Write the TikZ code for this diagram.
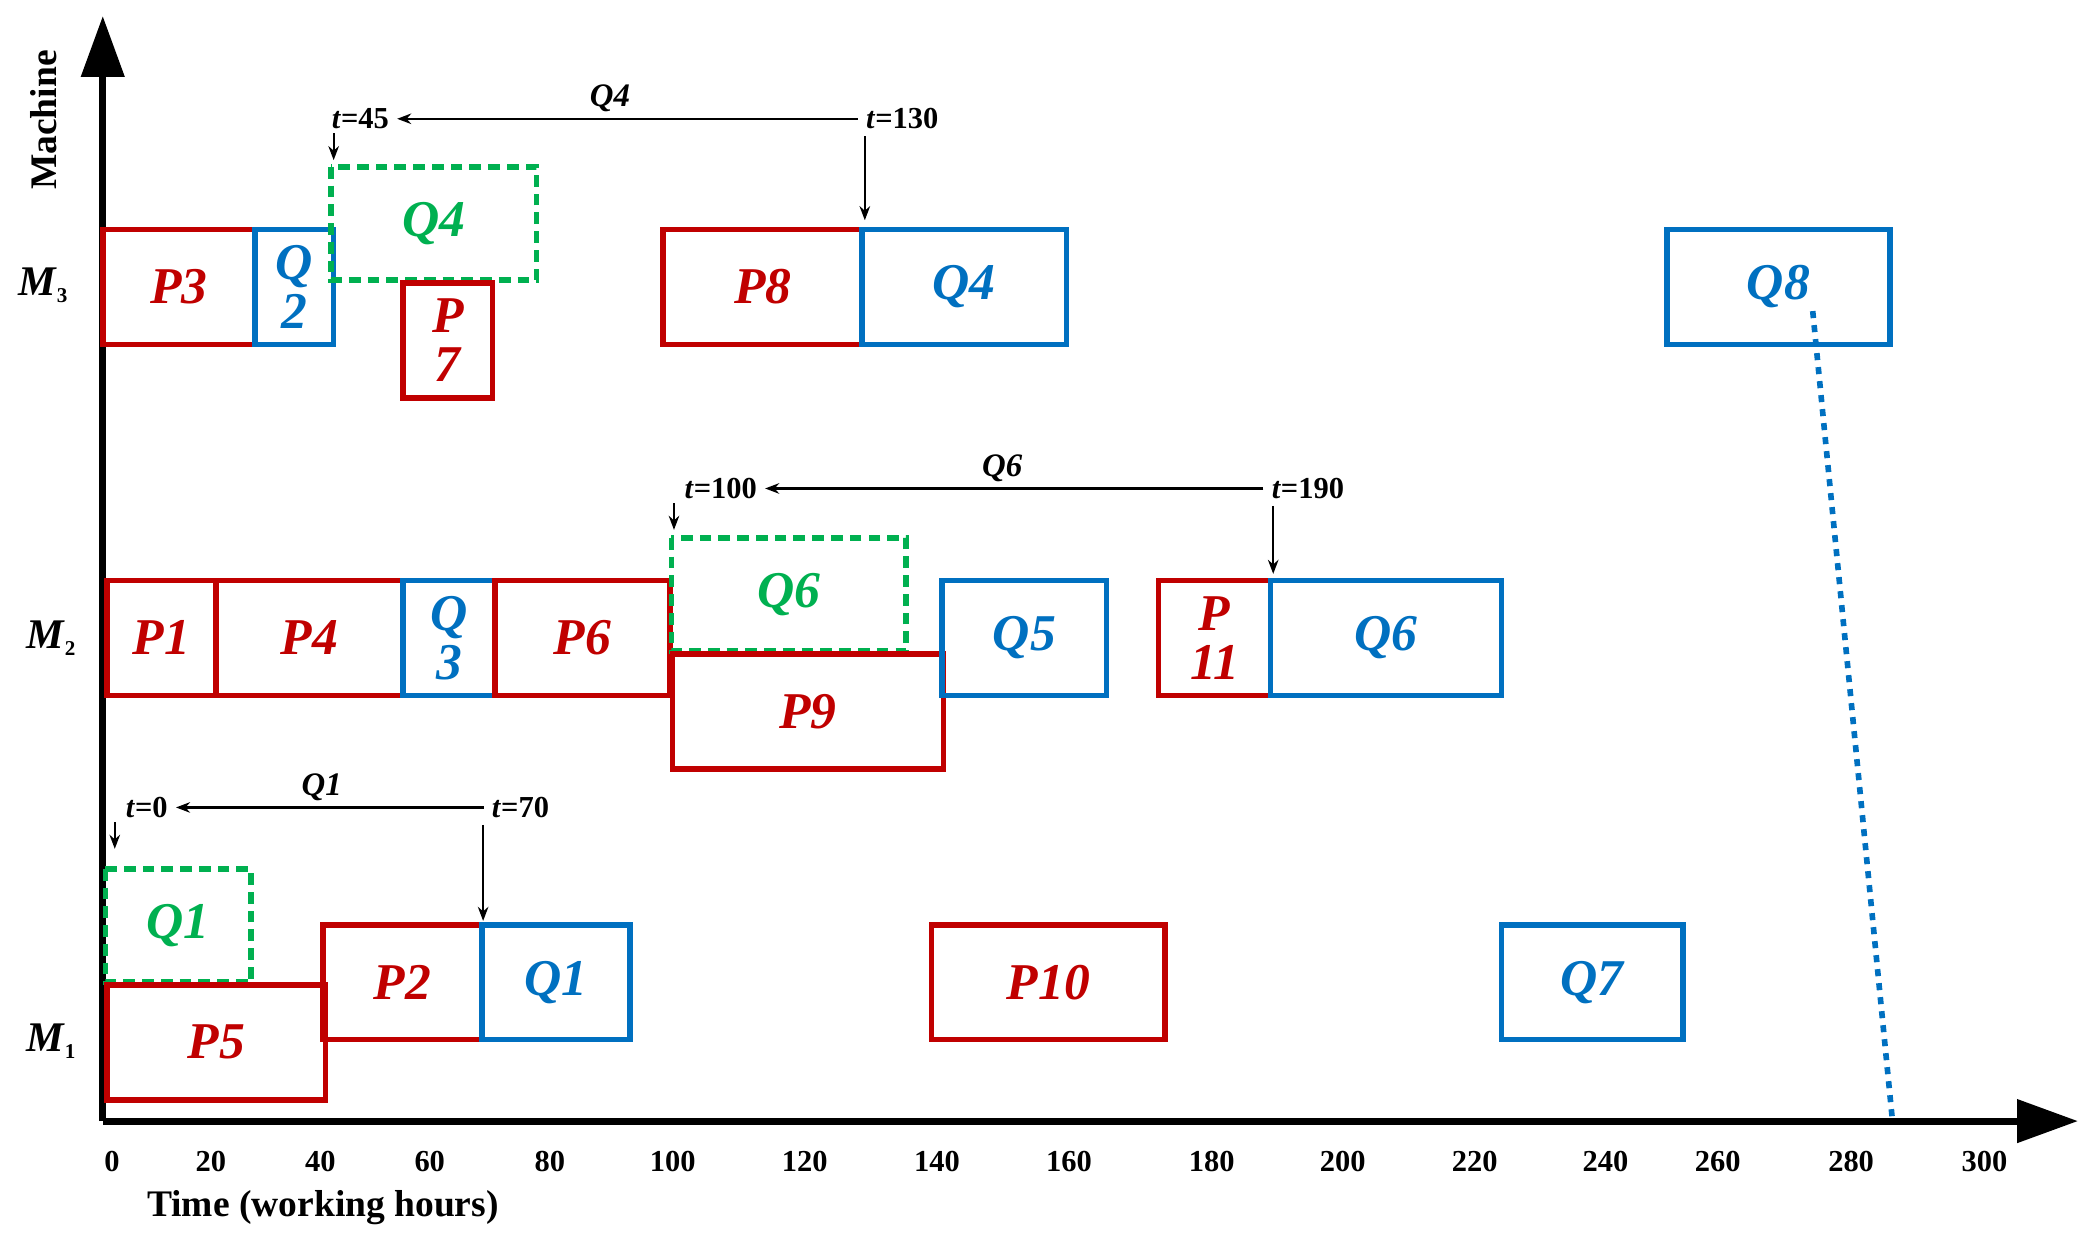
\documentclass[tikz,border=0pt]{standalone}
\usepackage{fontspec}
\setmainfont{Liberation Serif}
\usetikzlibrary{arrows.meta}
\definecolor{pred}{RGB}{192,0,0}
\definecolor{qblue}{RGB}{0,112,192}
\definecolor{qgreen}{RGB}{0,176,80}
\newcommand\mach[1]{\textbf{\textit{M}\raisebox{-0.35ex}{\small #1}}}
\begin{document}
\begin{tikzpicture}[x=0.02cm,y=-0.02cm
	,p/.style={draw=pred, line width=2.4pt, text=pred}
	,q/.style={draw=qblue, line width=2.4pt, text=qblue}
	,g/.style={draw=qgreen, line width=2.4pt, dash pattern=on 5pt off 3pt, text=qgreen}
	,lbl/.style={font=\fontsize{22}{21}\selectfont\bfseries\itshape, align=center}
	,ann/.style={font=\fontsize{13}{15}\selectfont\bfseries}
	,tick/.style={font=\fontsize{13}{15}\selectfont\bfseries}
	,arr/.style={-{Stealth[length=6pt]}, line width=0.9pt}
]
	\useasboundingbox (0,0) rectangle (1560,927);
	% axes
	\coordinate (O) at (77,840);
	\coordinate (xend) at (1557,840);
	\coordinate (yend) at (77,12);
	\draw [line width=3pt, -{Triangle[length=26pt,width=18pt]}] (O) -- (xend);
	\draw [line width=3pt, -{Triangle[length=26pt,width=18pt]}] (O) -- (yend);
	\node [rotate=90, font=\fontsize{16}{18}\selectfont\bfseries] (ylab) at (33,90) {Machine};
	\node [font=\fontsize{16}{18}\selectfont\bfseries] (xlab) at (242,905) {Time (working hours)};
	\foreach \t/\px in {0/84,20/158,40/240,60/322,80/412,100/504,120/603,140/702,160/801,180/908,200/1006,220/1105,240/1203,260/1287,280/1387,300/1487}
		\node [tick] (t\t) at (\px,870) {\t};
	\node [font=\fontsize{18}{20}\selectfont] (m3) at (32,214) {\mach{3}};
	\node [font=\fontsize{18}{20}\selectfont] (m2) at (38,478) {\mach{2}};
	\node [font=\fontsize{18}{20}\selectfont] (m1) at (38,780) {\mach{1}};
	% jobs: name/style/x1/y1/x2/y2/text
	\foreach \n/\s/\xa/\ya/\xb/\yb/\txt in {
		P3/p/77/172/191/258/P3, Q2/q/191/172/250/258/{Q\\2}, gQ4/g/248/125/402/210/Q4,
		P7/p/302/212/369/298/{P\\7}, P8/p/497/172/646/258/P8, Q4/q/646/172/799/258/Q4,
		Q8/q/1249/172/1416/258/Q8,
		P1/p/80/435/162/521/P1, P4/p/162/435/302/521/P4, Q3/q/302/435/371/521/{Q\\3},
		P6/p/371/435/502/521/P6, gQ6/g/503/403/679/488/Q6, P9/p/504/490/707/576/P9,
		Q5/q/706/435/829/521/Q5, P11/p/868/435/952/521/{P\\11}, Q6/q/952/435/1125/521/Q6,
		gQ1/g/79/651/188/736/Q1, P5/p/80/738/244/824/P5, P2/p/242/693/361/779/P2,
		Q1/q/361/693/472/779/Q1, P10/p/698/693/873/779/P10, Q7/q/1125/693/1261/779/Q7}
		\draw [\s] (\xa,\ya) rectangle (\xb,\yb)
			node [lbl, midway, inner sep=0pt] (\n) {\txt};
	% dotted end line
	\coordinate (end) at (1418,840);
	\draw [qblue, line width=2.4pt, dash pattern=on 3pt off 3pt] (Q8.south east) -- (end);
	% reschedule annotations
	\foreach \nm/\la/\xa/\lb/\xb/\yy/\ql/\qx/\sx/\bx/\by in {
		a/45/270/130/676/89/Q4/457/250/648/165,
		b/100/540/190/980/366/Q6/751/505/954/430,
		c/0/110/70/390/605/Q1/241/86/362/690}
	{
		\node [ann] (\nm L) at (\xa,\yy) {\textit{t}=\la};
		\node [ann] (\nm R) at (\xb,\yy) {\textit{t}=\lb};
		\node [ann, font=\fontsize{14}{16}\selectfont\bfseries\itshape] (\nm Q) at (\qx,\yy-15) {\ql};
		\draw [arr] (\nm R.west) -- (\nm L.east);
		\coordinate (\nm s) at (\sx,\yy+11);
		\coordinate (\nm t) at (\sx,\yy+31);
		\draw [arr] (\nm s) -- (\nm t);
		\coordinate (\nm b) at (\bx,\by);
		\draw [arr] (\bx,\yy+13) -- (\nm b);
	}
\end{tikzpicture}
\end{document}
